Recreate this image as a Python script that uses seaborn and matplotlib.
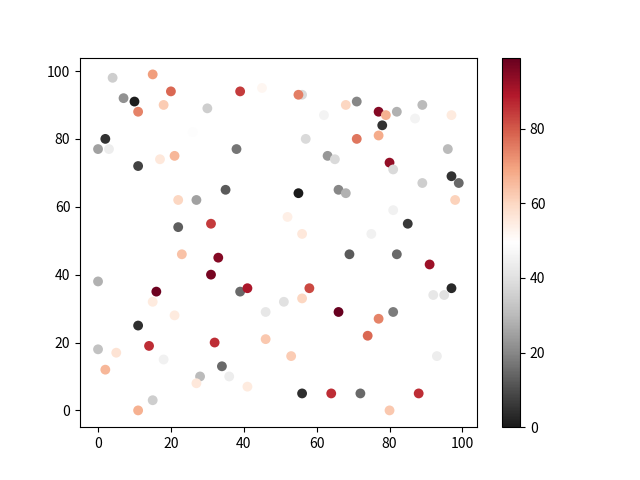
import numpy as np
import pandas as pd
import matplotlib
matplotlib.use("Agg")
import matplotlib.pyplot as plt
import seaborn as sns

# point positions and colour values
x_vals = [4, 15, 20, 39, 45, 7, 10, 18, 11, 30, 26, 2, 0, 3, 17, 21, 11, 38, 22, 27,
          35, 22, 31, 23, 33, 31, 16, 0, 39, 41, 15, 21, 11, 46, 46, 0, 5, 14, 18, 2,
          32, 34, 28, 27, 36, 41, 15, 11,
          56, 55, 62, 57, 68, 71, 77, 79, 82, 87, 89, 97, 78, 71, 77, 63, 65, 96, 80, 81,
          55, 66, 68, 89, 97, 99, 98, 52, 56, 81, 75, 85, 69, 82, 91, 58, 56, 97, 92, 95,
          51, 66, 81, 77, 74, 53, 93, 56, 64, 72, 88, 80]
y_vals = [98, 99, 94, 94, 95, 92, 91, 90, 88, 89, 82, 80, 77, 77, 74, 75, 72, 77, 62, 62,
          65, 54, 55, 46, 45, 40, 35, 38, 35, 36, 32, 28, 25, 29, 21, 18, 17, 19, 15, 12,
          20, 13, 10, 8, 10, 7, 3, 0,
          93, 93, 87, 80, 90, 91, 88, 87, 88, 86, 90, 87, 84, 80, 81, 75, 74, 77, 73, 71,
          64, 65, 64, 67, 69, 67, 62, 57, 52, 59, 52, 55, 46, 46, 43, 36, 33, 36, 34, 34,
          32, 29, 29, 27, 22, 16, 16, 5, 5, 5, 5, 0]
c_vals = [35, 70, 78, 84, 52, 22, 1, 62, 74, 35, 49, 5, 25, 44, 56, 66, 8, 17, 60, 25,
          12, 13, 84, 64, 95, 97, 98, 28, 15, 90, 55, 55, 4, 42, 63, 32, 57, 86, 45, 66,
          86, 15, 30, 56, 44, 55, 35, 67,
          38, 75, 46, 38, 60, 20, 95, 67, 28, 46, 30, 55, 5, 76, 68, 23, 38, 30, 93, 38,
          0, 20, 28, 35, 5, 15, 61, 54, 56, 45, 45, 6, 12, 15, 92, 82, 60, 3, 42, 40,
          40, 99, 18, 74, 78, 62, 44, 4, 86, 15, 86, 63]

df = pd.DataFrame({"x": x_vals, "y": y_vals, "c": c_vals})

plt.rcParams['font.family'] = ['Noto Sans CJK SC', 'DejaVu Sans']

fig, ax = plt.subplots(figsize=(6.4, 4.8), dpi=100)
norm = plt.Normalize(min(c_vals), max(c_vals))
sns.scatterplot(data=df, x="x", y="y", hue="c", palette="RdGy_r", hue_norm=norm,
                s=50, linewidth=0, legend=False, ax=ax)
ax.set_xlabel("")
ax.set_ylabel("")

sm = plt.cm.ScalarMappable(cmap="RdGy_r", norm=norm)
sm.set_array([])
fig.colorbar(sm, ax=ax)

fig.savefig("out.png", dpi=100)
